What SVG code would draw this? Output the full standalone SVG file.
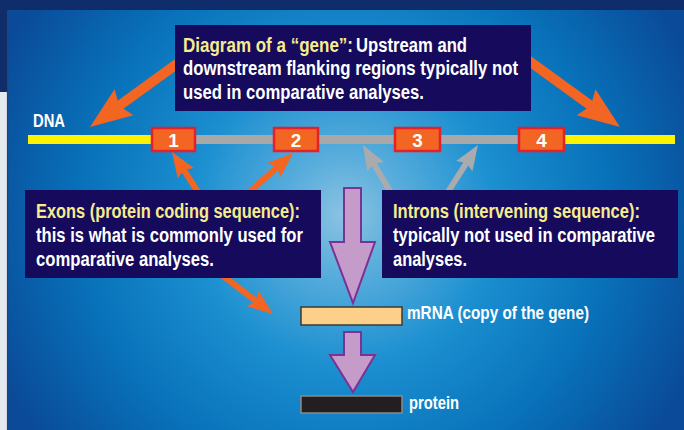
<svg xmlns="http://www.w3.org/2000/svg" width="684" height="430" viewBox="0 0 684 430">
  <defs>
    <radialGradient id="bg" gradientUnits="userSpaceOnUse" cx="345" cy="215" r="380">
      <stop offset="0" stop-color="#8cc3e3"/>
      <stop offset="0.15" stop-color="#5aaedc"/>
      <stop offset="0.4" stop-color="#1b8fd0"/>
      <stop offset="0.7" stop-color="#0871b9"/>
      <stop offset="1" stop-color="#0a4a98"/>
    </radialGradient>
    <marker id="ho" viewBox="-0.2 -2 5 4" markerWidth="5" markerHeight="4" refX="0.6" refY="0" orient="auto" markerUnits="strokeWidth" overflow="visible">
      <path d="M0.6,0 L0,-1.6 L4.2,0 L0,1.6 Z" fill="#f26522"/>
    </marker>
    <marker id="hg" viewBox="-0.2 -2 5 4" markerWidth="5" markerHeight="4" refX="0.6" refY="0" orient="auto" markerUnits="strokeWidth" overflow="visible">
      <path d="M0.6,0 L0,-1.6 L4.2,0 L0,1.6 Z" fill="#a9abae"/>
    </marker>
    <style>
      .t{font-family:"Liberation Sans",Arial,sans-serif;font-weight:bold;}
      .box{fill:#150a5c;}
      .y{fill:#f7ec8e;}
      .w{fill:#ffffff;}
      .exon{fill:#f26522;stroke:#e4202a;stroke-width:2.5;}
      .oa{stroke:#f26522;fill:none;marker-end:url(#ho);}
      .ga{stroke:#a9abae;fill:none;marker-end:url(#hg);}
      .purple{fill:#c49bc9;stroke:#7b3294;stroke-width:2;}
    </style>
  </defs>

  <!-- page background -->
  <rect x="0" y="0" width="684" height="430" fill="#e4e8ef"/>
  <rect x="0" y="0" width="684" height="10" fill="#0f2c6b"/>
  <rect x="0" y="0" width="8" height="92" fill="#0f2c6b"/>
  <rect x="7" y="9" width="677" height="421" fill="url(#bg)"/>
  <line x1="7.5" y1="9" x2="7.5" y2="430" stroke="#3a3f4a" stroke-width="1.2"/>
  <line x1="7" y1="9.5" x2="684" y2="9.5" stroke="#1a2a50" stroke-width="1.2"/>

  <!-- DNA strand -->
  <g id="dna">
    <line x1="153" y1="139.5" x2="564" y2="139.5" stroke="#a8a8a8" stroke-width="9"/>
    <line x1="28" y1="139.5" x2="153" y2="139.5" stroke="#fff200" stroke-width="9"/>
    <line x1="564" y1="139.5" x2="675" y2="139.5" stroke="#fff200" stroke-width="9"/>
    <text class="t w" transform="matrix(0.8 0 0 1 33 127)" font-size="19" textLength="40" lengthAdjust="spacingAndGlyphs">DNA</text>
  </g>

  <!-- connectors -->
  <g id="connectors">
    <line class="oa" x1="185" y1="58" x2="119.1" y2="105.8" stroke-width="10"/>
    <line class="oa" x1="525" y1="58" x2="590.9" y2="105.8" stroke-width="10"/>
    <line class="oa" x1="200" y1="195" x2="183.8" y2="170.1" stroke-width="6"/>
    <line class="oa" x1="246" y1="195" x2="276.9" y2="167.4" stroke-width="6"/>
    <line class="oa" x1="218" y1="272" x2="255.8" y2="300.9" stroke-width="6"/>
    <line class="ga" x1="392" y1="195" x2="373.8" y2="163.7" stroke-width="6"/>
    <line class="ga" x1="446" y1="195" x2="466.3" y2="163.1" stroke-width="6"/>
  </g>

  <!-- exons -->
  <g id="exon1">
    <rect class="exon" x="152" y="128" width="43" height="23"/>
    <text class="t w" x="173.5" y="146.5" font-size="19" text-anchor="middle">1</text>
  </g>
  <g id="exon2">
    <rect class="exon" x="274" y="128" width="44" height="23"/>
    <text class="t w" x="296" y="146.5" font-size="19" text-anchor="middle">2</text>
  </g>
  <g id="exon3">
    <rect class="exon" x="395" y="128" width="45" height="23"/>
    <text class="t w" x="417.5" y="146.5" font-size="19" text-anchor="middle">3</text>
  </g>
  <g id="exon4">
    <rect class="exon" x="519" y="128" width="45" height="23"/>
    <text class="t w" x="541.5" y="146.5" font-size="19" text-anchor="middle">4</text>
  </g>

  <!-- gene caption -->
  <g id="gene-box">
    <rect class="box" x="175" y="25" width="356" height="86"/>
    <text class="t y" transform="matrix(0.8 0 0 1 183 51.5)" font-size="21" textLength="212.5" lengthAdjust="spacingAndGlyphs">Diagram of a “gene”:</text>
    <text class="t w" transform="matrix(0.8 0 0 1 356 51.5)" font-size="21" textLength="138.75" lengthAdjust="spacingAndGlyphs">Upstream and</text>
    <text class="t w" transform="matrix(0.8 0 0 1 183 75)" font-size="21" textLength="418.75" lengthAdjust="spacingAndGlyphs">downstream flanking regions typically not</text>
    <text class="t w" transform="matrix(0.8 0 0 1 183 99)" font-size="21" textLength="301.25" lengthAdjust="spacingAndGlyphs">used in comparative analyses.</text>
  </g>

  <!-- exons caption -->
  <g id="exons-box">
    <rect class="box" x="25" y="190" width="296" height="88"/>
    <text class="t y" transform="matrix(0.8 0 0 1 36 218)" font-size="21" textLength="330" lengthAdjust="spacingAndGlyphs">Exons (protein coding sequence):</text>
    <text class="t w" transform="matrix(0.8 0 0 1 36 242)" font-size="21" textLength="333.75" lengthAdjust="spacingAndGlyphs">this is what is commonly used for</text>
    <text class="t w" transform="matrix(0.8 0 0 1 36 266)" font-size="21" textLength="222.5" lengthAdjust="spacingAndGlyphs">comparative analyses.</text>
  </g>

  <!-- introns caption -->
  <g id="introns-box">
    <rect class="box" x="382" y="190" width="296" height="88"/>
    <text class="t y" transform="matrix(0.8 0 0 1 393 218)" font-size="21" textLength="308.75" lengthAdjust="spacingAndGlyphs">Introns (intervening sequence):</text>
    <text class="t w" transform="matrix(0.8 0 0 1 393 242)" font-size="21" textLength="327.5" lengthAdjust="spacingAndGlyphs">typically not used in comparative</text>
    <text class="t w" transform="matrix(0.8 0 0 1 393 266)" font-size="21" textLength="92.5" lengthAdjust="spacingAndGlyphs">analyses.</text>
  </g>

  <!-- transcription / translation arrows -->
  <g id="transcription">
    <polygon class="purple" points="344,188 361,188 361,242 375,242 353,303 330,242 344,242"/>
  </g>
  <g id="mrna">
    <rect x="301" y="307" width="101" height="18" fill="#fdd08a" stroke="#3a3a3a" stroke-width="1.5"/>
    <text class="t w" transform="matrix(0.8 0 0 1 407 319)" font-size="18" textLength="227.5" lengthAdjust="spacingAndGlyphs">mRNA (copy of the gene)</text>
  </g>
  <g id="translation">
    <polygon class="purple" points="344,332 361,332 361,355 375,355 353,392 330,355 344,355"/>
  </g>
  <g id="protein">
    <rect x="301" y="396" width="101" height="17" fill="#231f20" stroke="#8a8a8a" stroke-width="1.5"/>
    <text class="t w" transform="matrix(0.8 0 0 1 409 409)" font-size="18" textLength="62.5" lengthAdjust="spacingAndGlyphs">protein</text>
  </g>
</svg>
